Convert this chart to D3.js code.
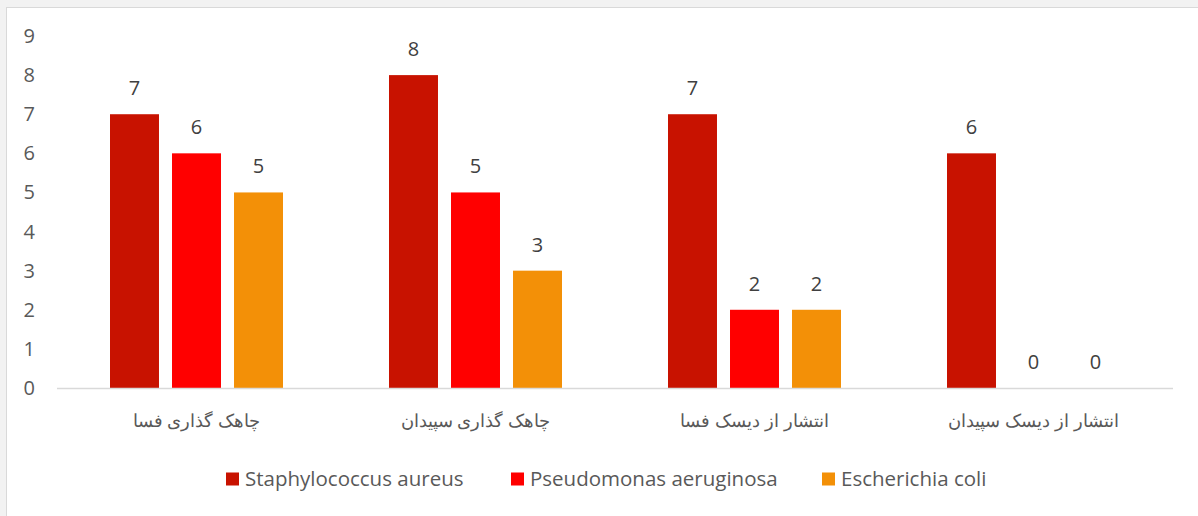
<!doctype html>
<html>
<head>
<meta charset="utf-8">
<script src="https://d3js.org/d3.v7.min.js"></script>
<style>
  body { margin: 0; background: #f2f2f2; }
  svg text { font-family: "Open Sans", "Noto Sans", sans-serif; }
</style>
</head>
<body>
<div id="chart"></div>
<script>
// data
var categories = ["چاهک گذاری فسا", "چاهک گذاری سپیدان", "انتشار از دیسک فسا", "انتشار از دیسک سپیدان"];
var seriesNames = ["Staphylococcus aureus", "Pseudomonas aeruginosa", "Escherichia coli"];
var staph = [7, 8, 7, 6];
var pseudo = [6, 5, 2, 0];
var ecoli = [5, 3, 2, 0];
var yTicks = [0, 1, 2, 3, 4, 5, 6, 7, 8, 9];
var colors = ["#c81200", "#ff0000", "#f39007"];

var W = 1198, H = 516;
var svg = d3.select("#chart").append("svg")
    .attr("width", W).attr("height", H);

// chart area
svg.append("rect")
    .attr("x", 6.5).attr("y", 7.5)
    .attr("width", W).attr("height", H)
    .attr("fill", "#fff").attr("stroke", "#d9d9d9");

var x0 = d3.scaleBand().domain(categories).range([57, 1173]);
var x1 = d3.scaleBand().domain(seriesNames).range([-86.5, 86.5]).paddingInner(0.21);
var y = d3.scaleLinear().domain([0, 9]).range([388, 36]);

var values = [staph, pseudo, ecoli];
var rows = [];
categories.forEach(function(c, i) {
  seriesNames.forEach(function(s, j) {
    rows.push({cat: c, ser: s, v: values[j][i], color: colors[j]});
  });
});

// y axis labels
svg.append("g").selectAll("text").data(yTicks).enter().append("text")
    .attr("x", 35).attr("y", function(d) { return y(d); })
    .attr("dy", "0.35em")
    .attr("text-anchor", "end")
    .attr("fill", "#595959").attr("font-size", 20)
    .text(function(d) { return d; });

// bars
svg.append("g").selectAll("rect").data(rows).enter().append("rect")
    .attr("x", function(d) { return x0(d.cat) + x0.bandwidth() / 2 + x1(d.ser); })
    .attr("width", x1.bandwidth())
    .attr("y", function(d) { return y(d.v); })
    .attr("height", function(d) { return y(0) - y(d.v); })
    .attr("fill", function(d) { return d.color; });

// data labels
svg.append("g").selectAll("text").data(rows).enter().append("text")
    .attr("x", function(d) { return x0(d.cat) + x0.bandwidth() / 2 + x1(d.ser) + x1.bandwidth() / 2; })
    .attr("y", function(d) { return y(d.v) - 26; })
    .attr("dy", "0.35em")
    .attr("text-anchor", "middle")
    .attr("fill", "#404040").attr("font-size", 20)
    .text(function(d) { return d.v; });

// x axis line
svg.append("line")
    .attr("x1", x0.range()[0]).attr("x2", x0.range()[1])
    .attr("y1", y(0) + 0.5).attr("y2", y(0) + 0.5)
    .attr("stroke", "#d9d9d9").attr("stroke-width", 1.5);

// category labels
svg.append("g").selectAll("text").data(categories).enter().append("text")
    .attr("x", function(d) { return x0(d) + x0.bandwidth() / 2; })
    .attr("y", 421)
    .attr("dy", "0.35em")
    .attr("text-anchor", "middle")
    .attr("direction", "rtl")
    .attr("fill", "#595959").attr("font-size", 18)
    .text(function(d) { return d; });

// legend
var legX = [226, 511, 822];
var leg = svg.append("g").selectAll("g").data(seriesNames).enter().append("g")
    .attr("transform", function(d, i) { return "translate(" + legX[i] + ",479)"; });
leg.append("rect")
    .attr("x", 0).attr("y", -6.5).attr("width", 13).attr("height", 13)
    .attr("fill", function(d, i) { return colors[i]; });
leg.append("text")
    .attr("x", 19).attr("y", 0).attr("dy", "0.35em")
    .attr("fill", "#595959").attr("font-size", 20.5)
    .text(function(d) { return d; });
</script>
</body>
</html>
